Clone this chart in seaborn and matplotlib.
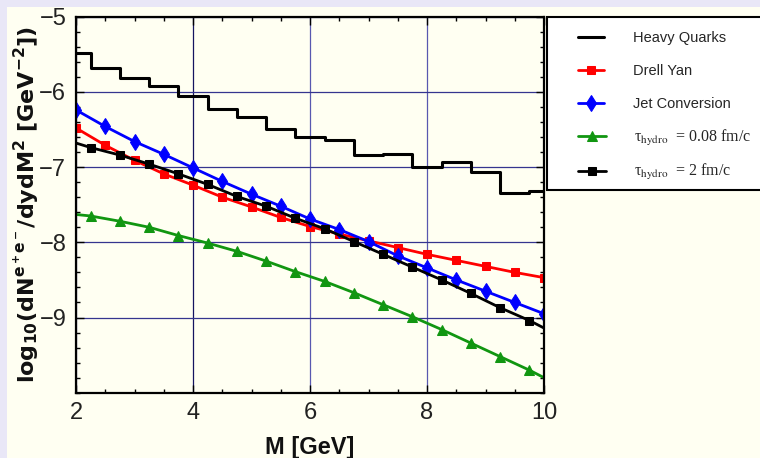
import pandas as pd
import seaborn as sns
import matplotlib.pyplot as plt
from matplotlib.patches import Rectangle
from matplotlib.ticker import MultipleLocator

# Data
mass = [2.0, 2.5, 3.0, 3.5, 4.0, 4.5, 5.0, 5.5, 6.0, 6.5, 7.0, 7.5, 8.0, 8.5, 9.0, 9.5, 10.0]
heavy_quarks = [-5.48, -5.68, -5.81, -5.92, -6.05, -6.23, -6.34, -6.49, -6.60, -6.64,
                -6.84, -6.82, -7.00, -6.93, -7.07, -7.35, -7.32]
drell_yan = [-6.48, -6.71, -6.91, -7.09, -7.24, -7.40, -7.53, -7.67, -7.79, -7.89,
             -7.98, -8.07, -8.16, -8.24, -8.32, -8.40, -8.47]
jet_conversion = [-6.24, -6.46, -6.66, -6.83, -7.01, -7.19, -7.36, -7.52, -7.69, -7.83,
                  -7.99, -8.18, -8.34, -8.50, -8.65, -8.80, -8.95]

hydro_mass = [2.0, 2.25, 2.75, 3.25, 3.75, 4.25, 4.75, 5.25, 5.75, 6.25, 6.75,
              7.25, 7.75, 8.25, 8.75, 9.25, 9.75, 10.0]
tau_008 = [-7.63, -7.65, -7.72, -7.80, -7.91, -8.01, -8.12, -8.25, -8.39, -8.52,
           -8.67, -8.83, -8.99, -9.16, -9.34, -9.52, -9.70, -9.80]
tau_2 = [-6.68, -6.74, -6.84, -6.96, -7.09, -7.23, -7.39, -7.52, -7.68, -7.82,
         -7.99, -8.16, -8.33, -8.50, -8.68, -8.87, -9.04, -9.14]

labels = ["Heavy Quarks", "Drell Yan", "Jet Conversion",
          "\u03c4$_{\\rm hydro}$  = 0.08 fm/c", "\u03c4$_{\\rm hydro}$  = 2 fm/c"]

df = pd.DataFrame({"M": mass, "hq": heavy_quarks, "dy": drell_yan, "jc": jet_conversion})
dh = pd.DataFrame({"M": hydro_mass, "t008": tau_008, "t2": tau_2})

sns.set_theme(style="ticks")
plt.rcParams["font.family"] = ["Liberation Sans Narrow", "Liberation Sans", "DejaVu Sans"]

cream = "#fffff2"
fig = plt.figure(figsize=(7.6, 4.58), dpi=100, facecolor="#e9e7f7")
fig.patches.append(Rectangle((7 / 760, 0), 1, 1 - 7 / 458, transform=fig.transFigure,
                             facecolor=cream, edgecolor="none", zorder=-2))
fig.patches.append(Rectangle((547 / 760, 1 - 190 / 458), 0.4, 173 / 458, transform=fig.transFigure,
                             facecolor="white", edgecolor="black", lw=1.5, zorder=-1))
ax = fig.add_axes([76 / 760, 1 - 392.7 / 458, 468 / 760, 376 / 458])
ax.set_facecolor(cream)

lw = 2.0
sns.lineplot(data=df, x="M", y="hq", ax=ax, color="black", lw=2.2, drawstyle="steps-mid",
             label=labels[0])
sns.lineplot(data=df, x="M", y="dy", ax=ax, color="#ff0000", lw=lw, marker="s", ms=6,
             mec="#ff0000", label=labels[1])
sns.lineplot(data=df, x="M", y="jc", ax=ax, color="#0000ff", lw=lw, marker="d", ms=8,
             mec="#0000ff", label=labels[2])
sns.lineplot(data=dh, x="M", y="t008", ax=ax, color="#119611", lw=lw, marker="^", ms=7,
             mec="#119611", markevery=list(range(1, 17)), label=labels[3])
sns.lineplot(data=dh, x="M", y="t2", ax=ax, color="black", lw=lw, marker="s", ms=6,
             mec="black", markevery=list(range(1, 17)), label=labels[4])

ax.set_xlim(2, 10)
ax.set_ylim(-10, -5)
ax.set_xticks([2, 4, 6, 8, 10])
ax.set_yticks([-9, -8, -7, -6, -5])
ax.xaxis.set_minor_locator(MultipleLocator(0.5))
ax.yaxis.set_minor_locator(MultipleLocator(0.2))
ax.grid(True, which="major", color="#35358f", lw=0.9)
xgrid = ax.get_xgridlines()
xgrid[1].set_color("#141460")
for g in xgrid[2:4]:
    g.set_color("#5858b0")
ax.tick_params(which="both", direction="in", top=True, right=True, color="black")
ax.tick_params(which="major", length=6, width=1, labelsize=17, labelcolor="#222222", pad=7)
ax.tick_params(which="minor", length=3, width=1)
ax.set_yticklabels(["\u22129", "\u22128", "\u22127", "\u22126", "\u22125"])
for s in ax.spines.values():
    s.set_color("black")
    s.set_linewidth(1.6)

ax.set_xlabel("M [GeV]", fontsize=17, fontweight="bold", labelpad=8, color="#111111")
ax.set_ylabel(r"$\mathbf{log_{10}(dN^{e^+e^-}/dydM^2\ [GeV^{-2}])}$", fontsize=16,
              color="#111111", labelpad=-1)

# legend split in two so the sans rows and the serif rows keep the reference spacing
handles, _ = ax.get_legend_handles_labels()
leg1 = ax.legend(handles[:3], labels[:3], loc="upper left",
                 bbox_to_anchor=(578 / 760, 1 - 31 / 458), bbox_transform=fig.transFigure,
                 frameon=False, fontsize=10.5, handlelength=1.75, handletextpad=2.0,
                 labelspacing=1.32, borderaxespad=0, borderpad=0)
ax.add_artist(leg1)
leg2 = ax.legend(handles[3:], labels[3:], loc="upper left",
                 bbox_to_anchor=(578 / 760, 1 - 128 / 458), bbox_transform=fig.transFigure,
                 frameon=False, prop={"family": "Liberation Serif", "size": 11.5},
                 handlelength=1.75, handletextpad=1.75, labelspacing=0.9,
                 borderaxespad=0, borderpad=0)
for t in leg2.get_texts():
    t.set_math_fontfamily("stix")

fig.savefig("out.png", dpi=100, facecolor=fig.get_facecolor())
